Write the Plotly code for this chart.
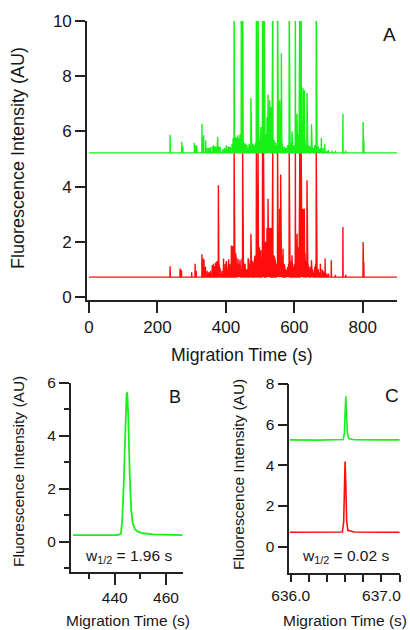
import plotly.graph_objects as go

# ---------------- data ----------------
# Panel A: electropherogram peaks (time s, absolute intensity AU)
green_base = 5.22
green_peak_t = [237, 271, 274, 308, 312, 315, 330, 333, 335, 341, 350, 354, 360, 364, 370, 374, 376, 383,
                390, 398, 405, 410, 413, 418, 421, 424, 428, 432, 434, 438, 441, 445, 449, 453, 458, 463,
                468, 473, 477, 481, 485, 489, 491, 494, 498, 502, 505, 507, 510, 512, 516, 520, 523, 526,
                528, 532, 535, 537, 541, 545, 548, 551, 554, 557, 562, 566, 570, 575, 580, 585, 589, 593,
                597, 603, 606, 608, 611, 614, 616, 618, 620, 623, 625, 629, 633, 637, 642, 646, 650, 655,
                660, 664, 666, 670, 679, 684, 689, 700, 710, 720, 742, 750, 801, 803]
green_peak_h = [5.88, 5.62, 5.45, 5.58, 5.50, 5.47, 6.28, 5.70, 5.86, 5.68, 5.40, 5.43, 5.45, 5.50, 5.45, 5.56, 5.80, 5.43,
                5.35, 5.37, 5.40, 5.45, 5.43, 5.55, 5.75, 11.0, 5.80, 5.70, 5.86, 5.75, 5.90, 11.0, 11.0, 5.60, 5.50, 5.45,
                5.55, 7.21, 5.50, 5.43, 5.60, 11.0, 11.0, 11.0, 5.70, 6.16, 5.80, 11.0, 11.0, 11.0, 5.90, 6.52, 7.34, 6.20,
                7.13, 6.88, 6.00, 11.0, 5.70, 5.60, 5.50, 11.0, 5.80, 7.13, 8.82, 5.60, 5.45, 5.40, 5.50, 11.0, 5.60, 6.00,
                5.50, 11.0, 5.70, 6.64, 5.90, 6.20, 11.0, 6.50, 11.0, 6.30, 7.58, 7.49, 5.60, 7.39, 5.50, 5.45, 6.26, 5.40,
                5.50, 11.0, 11.0, 5.45, 5.76, 5.40, 5.53, 5.32, 5.30, 5.30, 6.64, 5.30, 6.34, 5.68]
green_small_t = [345, 367, 380, 395, 401, 407, 426, 430, 436, 443, 447, 451, 456, 461, 466, 471, 475, 479, 483,
                 487, 496, 500, 514, 518, 530, 539, 543, 559, 564, 572, 578, 583, 587, 591, 595, 600, 610, 612,
                 622, 627, 631, 635, 640, 644, 648, 653, 658, 662, 668, 673, 676, 695]
green_small_h = [5.40, 5.45, 5.45, 5.40, 5.50, 5.45, 5.70, 5.75, 5.80, 5.70, 5.60, 5.50, 5.55, 5.50, 5.50, 5.45, 5.50,
                 5.55, 5.50, 5.60, 5.60, 5.65, 5.60, 5.70, 5.80, 5.60, 5.55, 5.70, 5.60, 5.40, 5.35, 5.50, 5.50, 5.60,
                 5.45, 5.50, 5.60, 5.70, 5.80, 5.60, 5.70, 5.50, 5.45, 5.40, 5.40, 5.35, 5.40, 5.50, 5.40, 5.35, 5.40,
                 5.30]

red_base = 0.72
red_peak_t = [237, 266, 270, 300, 310, 313, 330, 333, 336, 340, 348, 355, 360, 364, 370, 374, 378, 383,
              388, 393, 398, 403, 408, 413, 416, 419, 421, 424, 428, 432, 435, 438, 441, 449, 453, 458,
              465, 473, 477, 481, 485, 489, 491, 494, 498, 502, 505, 507, 510, 512, 516, 520, 523, 526,
              528, 532, 535, 537, 541, 545, 548, 551, 554, 557, 560, 567, 570, 575, 580, 585, 589, 593,
              597, 603, 606, 608, 611, 614, 616, 618, 620, 623, 625, 629, 633, 637, 642, 646, 650, 655,
              660, 664, 666, 670, 676, 684, 690, 700, 708, 720, 742, 750, 801, 803]
red_peak_h = [1.11, 1.03, 0.98, 0.90, 1.20, 0.95, 1.55, 1.40, 1.35, 1.10, 0.90, 0.95, 1.15, 1.20, 1.25, 1.30, 4.05, 1.05,
              0.95, 1.39, 1.20, 1.00, 1.37, 1.10, 1.87, 1.85, 1.50, 5.25, 1.60, 1.20, 1.39, 1.20, 1.35, 5.25, 1.20, 1.00,
              1.40, 2.29, 1.30, 1.10, 1.50, 5.25, 5.25, 5.25, 1.80, 1.69, 1.40, 5.25, 5.25, 5.25, 2.00, 2.50, 3.56, 2.00,
              2.51, 2.50, 2.23, 5.25, 1.50, 1.20, 1.10, 5.25, 1.50, 3.20, 4.44, 1.75, 1.20, 1.00, 1.09, 5.25, 1.20, 1.51,
              1.10, 5.25, 1.50, 2.29, 1.80, 2.50, 5.25, 2.60, 5.25, 2.00, 3.20, 3.20, 1.50, 4.23, 1.20, 1.10, 1.33, 1.00,
              1.10, 5.25, 5.25, 1.00, 1.20, 0.95, 1.39, 0.85, 1.33, 0.80, 2.54, 0.80, 1.99, 1.27]
red_small_t = [345, 352, 367, 380, 396, 401, 406, 411, 426, 430, 443, 447, 451, 456, 461, 467, 470, 475, 479,
               483, 487, 496, 500, 514, 518, 530, 539, 543, 550, 563, 565, 572, 578, 583, 587, 591, 595, 600,
               610, 612, 622, 627, 631, 635, 640, 644, 648, 653, 658, 662, 668, 673, 681, 687, 695]
red_small_h = [0.95, 0.90, 1.10, 1.20, 1.00, 1.30, 1.10, 1.20, 1.70, 1.40, 1.30, 1.40, 1.10, 1.20, 1.00, 1.30, 1.20,
               1.50, 1.20, 1.30, 1.20, 1.50, 1.30, 1.60, 1.40, 1.90, 1.30, 1.40, 1.20, 1.30, 1.50, 1.10, 0.95, 1.20,
               1.10, 1.30, 1.00, 1.20, 1.40, 1.60, 1.50, 2.00, 1.60, 1.30, 1.20, 1.00, 1.10, 1.00, 0.95, 1.20, 0.95,
               0.90, 1.00, 0.90, 0.85]
trace_start, trace_end = 0, 900

# Panel B: single green peak (time s, intensity AU)
b_t = [423.7, 430.0, 436.0, 441.0, 442.4, 442.9, 443.5, 444.1, 444.6, 444.9, 445.3, 445.8, 446.4,
       447.0, 447.8, 449.0, 451.0, 455.0, 460.0, 466.5]
b_y = [0.25, 0.24, 0.25, 0.25, 0.30, 0.80, 2.20, 4.40, 5.62, 5.60, 4.60, 2.60, 1.20,
       0.70, 0.48, 0.38, 0.32, 0.28, 0.26, 0.25]

# Panel C: green and red peak (time s, intensity AU)
c_green_t = [635.99, 636.30, 636.58, 636.592, 636.600, 636.608, 636.616, 636.625, 636.64, 636.70, 637.00, 637.20]
c_green_y = [5.25, 5.24, 5.27, 5.60, 6.60, 7.39, 6.40, 5.60, 5.32, 5.26, 5.25, 5.25]
c_red_t = [635.99, 636.30, 636.57, 636.584, 636.592, 636.600, 636.608, 636.617, 636.63, 636.70, 637.00, 637.20]
c_red_y = [0.71, 0.70, 0.72, 1.20, 2.80, 4.19, 3.00, 1.30, 0.80, 0.72, 0.71, 0.71]

a_xticks = [0, 200, 400, 600, 800]
a_yticks = [0, 2, 4, 6, 8, 10]
b_xticks = [440, 460]
b_yticks = [0, 2, 4, 6]
c_xticks = [636.0, 637.0]
c_xticklabels = ["636.0", "637.0"]
c_yticks = [0, 2, 4, 6, 8]

y_title = "Fluorescence Intensity (AU)"
x_title = "Migration Time (s)"


def stick_trace(base, times, heights, start, end, hw=0.5):
    xs, ys = [start], [base]
    for t, h in sorted(zip(times, heights)):
        xs += [t - hw, t, t + hw]
        ys += [base, h, base]
    xs.append(end)
    ys.append(base)
    return xs, ys


W, H = 410, 630
def PX(p): return p / W
def PY(p): return 1 - p / H

GREEN = "#18f018"
RED = "#ff0c0c"
FONT = "Liberation Sans, Arial, sans-serif"
INK = "#161616"
AX = "#222222"

fig = go.Figure()
rx, ry = stick_trace(red_base, red_peak_t + red_small_t, red_peak_h + red_small_h, trace_start, trace_end)
gx, gy = stick_trace(green_base, green_peak_t + green_small_t, green_peak_h + green_small_h, trace_start, trace_end)
fig.add_trace(go.Scatter(x=rx, y=ry, mode="lines", line=dict(color=RED, width=1.4), xaxis="x", yaxis="y"))
fig.add_trace(go.Scatter(x=gx, y=gy, mode="lines", line=dict(color=GREEN, width=1.4), xaxis="x", yaxis="y"))
fig.add_trace(go.Scatter(x=b_t, y=b_y, mode="lines", line=dict(color=GREEN, width=1.8), xaxis="x2", yaxis="y2"))
fig.add_trace(go.Scatter(x=c_green_t, y=c_green_y, mode="lines", line=dict(color=GREEN, width=1.6), xaxis="x3", yaxis="y3"))
fig.add_trace(go.Scatter(x=c_red_t, y=c_red_y, mode="lines", line=dict(color=RED, width=1.6), xaxis="x3", yaxis="y3"))


def axis(size, **kw):
    d = dict(showline=True, linecolor=AX, linewidth=1.6, ticks="outside", tickcolor=AX, tickwidth=1.6,
             showgrid=False, zeroline=False, automargin=False,
             tickfont=dict(family=FONT, color=INK, size=size))
    d.update(kw)
    return d


fig.update_layout(
    xaxis=axis(17, domain=[PX(87), PX(397)], range=[-6, 900], anchor="y", tickvals=a_xticks, ticklen=11),
    yaxis=axis(17, domain=[PY(300), PY(21)], range=[-0.109, 10], anchor="x", tickvals=a_yticks, ticklen=10),
    xaxis2=axis(15.5, domain=[PX(70.7), PX(182.7)], range=[422.8, 466.5], anchor="y2", tickvals=b_xticks, ticklen=11,
                minor=dict(dtick=10, tick0=0, ticklen=5, ticks="outside", tickcolor=AX, tickwidth=1.6)),
    yaxis2=axis(15.5, domain=[PY(571.7), PY(382.7)], range=[-1.13, 6], anchor="x2", tickvals=b_yticks, ticklen=10,
                minor=dict(dtick=1, tick0=0, ticklen=5, ticks="outside", tickcolor=AX, tickwidth=1.6)),
    xaxis3=axis(15.5, domain=[PX(289.3), PX(400)], range=[635.985, 637.205], anchor="y3", tickvals=c_xticks,
                ticktext=c_xticklabels, ticklen=7,
                minor=dict(dtick=0.2, tick0=636.0, ticklen=7, ticks="outside", tickcolor=AX, tickwidth=1.6)),
    yaxis3=axis(15.5, domain=[PY(573.3), PY(384)], range=[-1.31, 8], anchor="x3", tickvals=c_yticks, ticklen=10),
)

ann = []
def add_text(text, x, y, size, angle=0):
    ann.append(dict(text=text, x=PX(x), y=PY(y), xref="paper", yref="paper", showarrow=False,
                    xanchor="center", yanchor="middle", textangle=angle,
                    font=dict(family=FONT, size=size, color=INK)))

add_text(y_title, 18, 158, 18, -90)
add_text(x_title, 242, 355, 17.7)
add_text("A", 389, 34, 19)
add_text(y_title, 18, 472, 15.5, -90)
add_text(x_title, 127.5, 620, 15.5)
add_text("B", 175, 396.5, 18)
add_text("w<sub>1/2</sub> = 1.96 s", 128, 556.7, 15.5)
add_text(y_title, 238, 474, 15.5, -90)
add_text(x_title, 345, 620, 15.5)
add_text("C", 391.7, 395, 19)
add_text("w<sub>1/2</sub> = 0.02 s", 345.7, 556.7, 15.5)

fig.update_layout(width=W, height=H, margin=dict(l=0, r=0, t=0, b=0), showlegend=False,
                  paper_bgcolor="white", plot_bgcolor="white", annotations=ann)

fig.write_html("out.html", config={"displayModeBar": False},
               post_script="document.body.style.margin='0';document.body.style.overflow='hidden';"
                           "document.documentElement.style.overflow='hidden';")
